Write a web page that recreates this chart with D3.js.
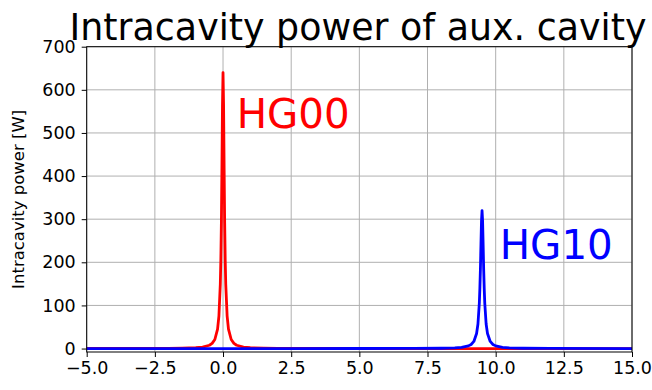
<!DOCTYPE html>
<html>
<head>
<meta charset="utf-8">
<script src="https://cdn.jsdelivr.net/npm/d3@7"></script>
<style>
  body { margin: 0; background: #fff; }
  text { font-family: "DejaVu Sans", sans-serif; }
</style>
</head>
<body>
<svg width="652" height="390"></svg>
<script>
// detuning values and intracavity power
const hg00X = [-5, -4, -3, -2, -1.5, -1, -0.75, -0.5, -0.4, -0.3, -0.2, -0.15, -0.1, -0.08, -0.06, -0.04, -0.02,
  0, 0.02, 0.04, 0.06, 0.08, 0.1, 0.15, 0.2, 0.3, 0.4, 0.5, 0.75, 1, 1.5, 2, 3, 5, 7.5, 9.5, 12, 15];
const hg00Y = [0.08, 0.12, 0.2, 0.5, 0.9, 1.9, 3.4, 7.7, 12, 21, 45, 76, 149, 205, 292, 419, 565,
  640, 565, 419, 292, 205, 149, 76, 45, 21, 12, 7.7, 3.4, 1.9, 0.9, 0.5, 0.2, 0.08, 0.04, 0.02, 0.02, 0.01];

const hg10X = [-5, 0, 2.5, 5, 7, 8, 8.5, 8.75, 9, 9.1, 9.2, 9.3, 9.35, 9.4, 9.42, 9.44, 9.46, 9.48,
  9.5, 9.52, 9.54, 9.56, 9.58, 9.6, 9.65, 9.7, 9.8, 9.9, 10, 10.25, 10.5, 11, 12, 15];
const hg10Y = [0.01, 0.02, 0.04, 0.08, 0.25, 0.7, 1.6, 2.8, 6.2, 9.5, 16.5, 35, 57, 105, 139, 184, 241, 296,
  320, 296, 241, 184, 139, 105, 57, 35, 16.5, 9.5, 6.2, 2.8, 1.6, 0.7, 0.25, 0.05];

const xTicks = [-5, -2.5, 0, 2.5, 5, 7.5, 10, 12.5, 15];
const yTicks = [0, 100, 200, 300, 400, 500, 600, 700];

const svg = d3.select("svg"),
  margin = { top: 46.7, right: 20, bottom: 38, left: 86.7 },
  width = svg.attr("width") - margin.left - margin.right,
  height = svg.attr("height") - margin.top - margin.bottom;

const x = d3.scaleLinear().domain([-5, 15]).range([0, width]),
  y = d3.scaleLinear().domain([-8, 700]).range([height, 0]);

const g = svg.append("g")
  .attr("transform", "translate(" + margin.left + "," + margin.top + ")");

// shrink a text's font until it spans the width seen in the picture
function fitWidth(t, w) {
  const fs = +t.attr("font-size");
  t.attr("font-size", fs * w / t.node().getComputedTextLength());
}

// grid
g.append("g").selectAll("line").data(xTicks).enter().append("line")
  .attr("x1", d => x(d)).attr("x2", d => x(d))
  .attr("y1", 0).attr("y2", height)
  .attr("stroke", "#b0b0b0").attr("stroke-width", 1);
g.append("g").selectAll("line").data(yTicks).enter().append("line")
  .attr("x1", 0).attr("x2", width)
  .attr("y1", d => y(d)).attr("y2", d => y(d))
  .attr("stroke", "#b0b0b0").attr("stroke-width", 1);

const line = d3.line()
  .x(d => x(d[0]))
  .y(d => y(d[1]));

g.append("path")
  .datum(d3.zip(hg00X, hg00Y))
  .attr("d", line)
  .attr("fill", "none").attr("stroke", "#ff0000")
  .attr("stroke-width", 2.8).attr("stroke-linejoin", "round");

g.append("path")
  .datum(d3.zip(hg10X, hg10Y))
  .attr("d", line)
  .attr("fill", "none").attr("stroke", "#0000ff")
  .attr("stroke-width", 2.8).attr("stroke-linejoin", "round");

// spines
g.append("rect")
  .attr("width", width).attr("height", height)
  .attr("fill", "none").attr("stroke", "#000").attr("stroke-width", 1);

// axes
const xAxis = g.append("g")
  .attr("transform", "translate(0," + height + ")")
  .call(d3.axisBottom(x).tickValues(xTicks).tickSize(5).tickPadding(5)
    .tickFormat(d => d3.format(".1f")(d).replace("-", "\u2212")));
const yAxis = g.append("g")
  .call(d3.axisLeft(y).tickValues(yTicks).tickSize(5).tickPadding(6));
[xAxis, yAxis].forEach(a => {
  a.select(".domain").remove();
  a.selectAll("text").attr("font-size", 17.5).attr("fill", "#000")
    .style("font-family", "DejaVu Sans");
  a.selectAll("line").attr("stroke", "#000");
});

// labels
const title = svg.append("text")
  .attr("x", 358).attr("y", 40)
  .attr("text-anchor", "middle")
  .attr("font-size", 36)
  .text("Intracavity power of aux. cavity");
fitWidth(title, 577);

svg.append("text")
  .attr("transform", "translate(24," + (margin.top + height / 2) + ") rotate(-90)")
  .attr("text-anchor", "middle")
  .attr("font-size", 16.5)
  .text("Intracavity power [W]");

const lab0 = g.append("text")
  .attr("x", x(0.5)).attr("y", y(511))
  .attr("font-size", 40).attr("fill", "#ff0000")
  .text("HG00");
fitWidth(lab0, 113);

const lab1 = g.append("text")
  .attr("x", x(10.15)).attr("y", y(207))
  .attr("font-size", 40).attr("fill", "#0000ff")
  .text("HG10");
fitWidth(lab1, 113);
</script>
</body>
</html>
